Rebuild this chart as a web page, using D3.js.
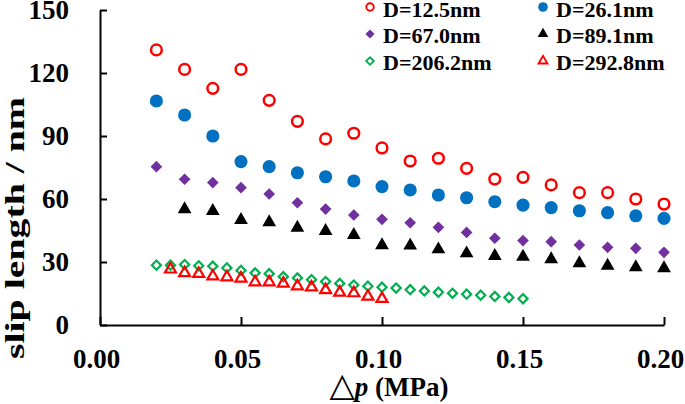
<!DOCTYPE html>
<html>
<head>
<meta charset="utf-8">
<script src="https://cdn.jsdelivr.net/npm/d3@7"></script>
<style>
  html, body { margin: 0; padding: 0; background: #fff; }
  svg { display: block; }
  text { font-family: "Liberation Serif", "Times New Roman", serif; font-weight: bold; fill: #000; }
</style>
</head>
<body>
<svg id="chart" width="685" height="404"></svg>
<script>
// ---- data ----
const xTicks = [0.00, 0.05, 0.10, 0.15, 0.20];
const yTicks = [0, 30, 60, 90, 120, 150];

const pCoarse = [0.02, 0.03, 0.04, 0.05, 0.06, 0.07, 0.08, 0.09, 0.10, 0.11, 0.12, 0.13, 0.14, 0.15, 0.16, 0.17, 0.18, 0.19, 0.20];
const pCoarse89 = [0.03, 0.04, 0.05, 0.06, 0.07, 0.08, 0.09, 0.10, 0.11, 0.12, 0.13, 0.14, 0.15, 0.16, 0.17, 0.18, 0.19, 0.20];
const pFine206 = [0.020, 0.025, 0.030, 0.035, 0.040, 0.045, 0.050, 0.055, 0.060, 0.065, 0.070, 0.075, 0.080, 0.085, 0.090, 0.095, 0.100, 0.105, 0.110, 0.115, 0.120, 0.125, 0.130, 0.135, 0.140, 0.145, 0.150];
const pFine292 = [0.025, 0.030, 0.035, 0.040, 0.045, 0.050, 0.055, 0.060, 0.065, 0.070, 0.075, 0.080, 0.085, 0.090, 0.095, 0.100];

const slipD125 = [131, 121.7, 112.7, 121.7, 107, 97, 88.6, 91.3, 84.3, 78.1, 79.4, 74.6, 69.5, 70.3, 66.7, 63, 63, 60, 57.6];
const slipD261 = [106.7, 100, 90, 77.8, 75.4, 72.5, 70.6, 68.6, 65.9, 64.3, 61.9, 60.6, 58.7, 57.1, 55.9, 54.4, 53.5, 52, 50.8];
const slipD670 = [75.4, 69.4, 67.8, 65.4, 62.4, 58.2, 55.2, 52.4, 50.3, 48.7, 46.5, 44.1, 41.3, 40.2, 39.7, 38.1, 37, 36.5, 34.6];
const slipD891 = [55.1, 54.3, 50, 48.9, 46.3, 44.8, 42.9, 38, 37.8, 36, 34.1, 32.9, 32.5, 31.3, 29.4, 28.2, 27.5, 27];
const slipD2062 = [28.5, 28.5, 28.8, 28.2, 28.0, 27.2, 26.0, 24.8, 24.4, 23.0, 22.4, 21.6, 20.7, 19.8, 19.0, 18.5, 18.0, 17.6, 16.8, 16.2, 15.6, 15.1, 14.7, 14.2, 13.6, 13.1, 12.5];
const slipD2928 = [26.5, 24.8, 24.4, 23.2, 22.8, 22.2, 20.4, 20.4, 19.8, 18.5, 18.0, 16.7, 15.5, 15.2, 13.6, 12.5];

const seriesLabels = ["D=12.5nm", "D=26.1nm", "D=67.0nm", "D=89.1nm", "D=206.2nm", "D=292.8nm"];

// ---- styles ----
const styles = [
  { xs: pCoarse,   ys: slipD125,  type: d3.symbolCircle,   size: 90,  rot: 0,  fill: "none",    stroke: "#ff0000", sw: 2.5, lsize: 44 },
  { xs: pCoarse,   ys: slipD261,  type: d3.symbolCircle,   size: 135, rot: 0,  fill: "#0070c0", stroke: "none",    sw: 0,   lsize: 72 },
  { xs: pCoarse,   ys: slipD670,  type: d3.symbolSquare,   size: 68,  rot: 45, fill: "#7030a0", stroke: "none",    sw: 0,   lsize: 42 },
  { xs: pCoarse89, ys: slipD891,  type: d3.symbolTriangle, size: 82,  rot: 0,  fill: "#000000", stroke: "none",    sw: 0,   lsize: 50 },
  { xs: pFine206,  ys: slipD2062, type: d3.symbolSquare,   size: 42,  rot: 45, fill: "none",    stroke: "#00b050", sw: 2.2, lsize: 28 },
  { xs: pFine292,  ys: slipD2928, type: d3.symbolTriangle, size: 52,  rot: 0,  fill: "none",    stroke: "#ff0000", sw: 2.2, lsize: 34 }
];

const svg = d3.select("#chart");
const x = d3.scaleLinear().domain([0, 0.2]).range([100, 664]);
const y = d3.scaleLinear().domain([0, 150]).range([325, 10]);

// axes
const yAxis = d3.axisLeft(y).tickValues(yTicks).tickSize(-7).tickSizeOuter(0).tickPadding(31).tickFormat(d3.format("d"));
const gy = svg.append("g").attr("transform", "translate(100,0)").call(yAxis);
const xAxis = d3.axisBottom(x).tickValues(xTicks).tickSize(-8).tickSizeOuter(0).tickPadding(24).tickFormat(d3.format(".2f"));
const gx = svg.append("g").attr("transform", "translate(0,325)").call(xAxis);

[gx, gy].forEach(g => {
  g.select(".domain").attr("stroke", "#000").attr("stroke-width", 2);
  g.selectAll(".tick line").attr("stroke", "#000").attr("stroke-width", 2);
  g.selectAll(".tick text").attr("font-family", "Liberation Serif, serif").attr("font-weight", "bold").attr("font-size", 27).attr("fill", "#000");
});
gx.selectAll(".tick text").attr("dx", -4);

// axis titles
svg.append("text")
  .attr("transform", "translate(24,228) rotate(-90)")
  .attr("text-anchor", "middle")
  .attr("font-size", 27)
  .attr("textLength", 262)
  .attr("lengthAdjust", "spacingAndGlyphs")
  .text("slip length / nm");

const xt = svg.append("text")
  .attr("x", 389).attr("y", 396)
  .attr("text-anchor", "middle")
  .attr("font-size", 27);
xt.append("tspan").attr("font-family", "DejaVu Sans, sans-serif").attr("font-weight", "normal").attr("font-size", 33).text("\u25B3");
xt.append("tspan").attr("font-style", "italic").text("p");
xt.append("tspan").text(" (MPa)");

// data points
styles.forEach((s, i) => {
  const sym = d3.symbol().type(s.type).size(s.size);
  svg.append("g").selectAll("path")
    .data(s.xs.map((v, k) => [v, s.ys[k]]))
    .join("path")
    .attr("d", sym)
    .attr("transform", d => `translate(${x(d[0])},${y(d[1])}) rotate(${s.rot})`)
    .attr("fill", s.fill)
    .attr("stroke", s.stroke)
    .attr("stroke-width", s.sw);
});

// legend
const legCols = [370, 543];
const legRows = [7, 34, 61];
const legBase = [17, 43, 70];
styles.forEach((s, i) => {
  const col = i % 2, row = Math.floor(i / 2);
  const lx = legCols[col];
  svg.append("path")
    .attr("d", d3.symbol().type(s.type).size(s.lsize)())
    .attr("transform", `translate(${lx},${legRows[row]}) rotate(${s.rot})`)
    .attr("fill", s.fill)
    .attr("stroke", s.stroke)
    .attr("stroke-width", s.sw ? 1.9 : 0);
  svg.append("text")
    .attr("x", lx + 13).attr("y", legBase[row])
    .attr("font-size", 22)
    .text(seriesLabels[i]);
});
</script>
</body>
</html>
